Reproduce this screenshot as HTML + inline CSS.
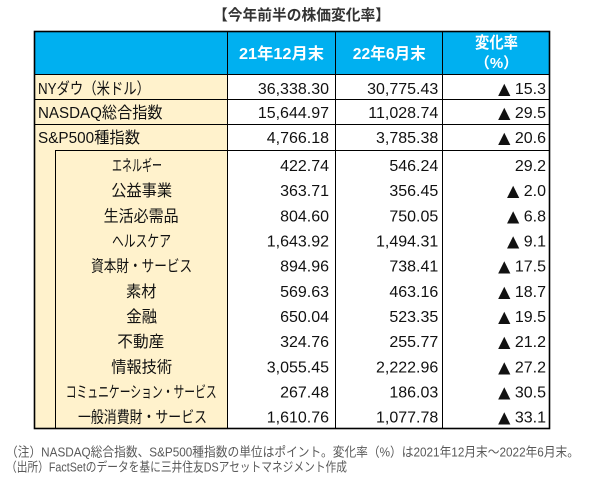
<!DOCTYPE html>
<html><head><meta charset="utf-8"><style>
html,body{margin:0;padding:0;background:#fff;}
svg{display:block;}
text{font-family:"Liberation Sans","Noto Sans CJK JP",sans-serif;}
.n{font-size:16px;fill:#111;text-anchor:end;}
.l{font-size:16px;fill:#111;}
.c{font-size:16px;fill:#111;text-anchor:middle;}
.h{font-size:16px;fill:#fff;font-weight:bold;text-anchor:middle;}
.t{font-family:"DejaVu Sans",sans-serif;font-size:16px;}
.f{font-size:13px;fill:#595959;}
</style></head><body>
<svg width="613" height="483" viewBox="0 0 613 483" xmlns="http://www.w3.org/2000/svg">
<rect x="0" y="0" width="613" height="483" fill="#fff"/>
<text x="213" y="20" font-size="15" font-weight="bold" fill="#333" textLength="177" lengthAdjust="spacingAndGlyphs">【今年前半の株価変化率】</text>
<rect x="34" y="31" width="516" height="43" fill="#00B0F0"/>
<rect x="34" y="74" width="193.5" height="355" fill="#FFF2CC"/>
<g stroke="#000" stroke-width="1" fill="none">
<line x1="34" y1="74.5" x2="550" y2="74.5"/>
<line x1="34" y1="99.5" x2="550" y2="99.5"/>
<line x1="34" y1="124.5" x2="550" y2="124.5"/>
<line x1="55" y1="150.5" x2="550" y2="150.5"/>
<line x1="55.5" y1="150" x2="55.5" y2="429"/>
<line x1="227.5" y1="31" x2="227.5" y2="429"/>
<line x1="335.5" y1="31" x2="335.5" y2="429"/>
<line x1="442.5" y1="31" x2="442.5" y2="429"/>
<rect x="34.5" y="31.5" width="515" height="397" stroke-width="1.6"/>
</g>
<text class="h" x="281.5" y="59" textLength="85" lengthAdjust="spacingAndGlyphs">21年12月末</text>
<text class="h" x="389.3" y="59" textLength="73" lengthAdjust="spacingAndGlyphs">22年6月末</text>
<text class="h" x="496.5" y="48" textLength="43" lengthAdjust="spacingAndGlyphs">変化率</text>
<text class="h" x="496.5" y="68" style="font-size:15px">（%）</text>

<text class="l" x="38" y="94" textLength="112" lengthAdjust="spacingAndGlyphs">NYダウ（米ドル）</text>
<text class="l" x="38" y="118" textLength="124.5" lengthAdjust="spacingAndGlyphs">NASDAQ総合指数</text>
<text class="l" x="38" y="143" textLength="102" lengthAdjust="spacingAndGlyphs">S&amp;P500種指数</text>

<text class="c" x="137" y="171" textLength="50" lengthAdjust="spacingAndGlyphs">エネルギー</text>
<text class="c" x="141.7" y="196" textLength="61" lengthAdjust="spacingAndGlyphs">公益事業</text>
<text class="c" x="141.1" y="221.3" textLength="75" lengthAdjust="spacingAndGlyphs">生活必需品</text>
<text class="c" x="141.5" y="246.5" textLength="59" lengthAdjust="spacingAndGlyphs">ヘルスケア</text>
<text class="c" x="141.6" y="271.7" textLength="101" lengthAdjust="spacingAndGlyphs">資本財・サービス</text>
<text class="c" x="141.3" y="296.8" textLength="30.5" lengthAdjust="spacingAndGlyphs">素材</text>
<text class="c" x="141.7" y="322" textLength="31" lengthAdjust="spacingAndGlyphs">金融</text>
<text class="c" x="140.8" y="347.2" textLength="47" lengthAdjust="spacingAndGlyphs">不動産</text>
<text class="c" x="141.7" y="372.4" textLength="61" lengthAdjust="spacingAndGlyphs">情報技術</text>
<text class="c" x="141.2" y="397.5" textLength="151" lengthAdjust="spacingAndGlyphs">コミュニケーション・サービス</text>
<text class="c" x="142.5" y="422.7" textLength="129" lengthAdjust="spacingAndGlyphs">一般消費財・サービス</text>

<g class="nums">
<text class="n" x="329" y="94">36,338.30</text><text class="n" x="438.3" y="94">30,775.43</text><text class="n" x="546" y="94"><tspan class="t">▲</tspan> 15.3</text>
<text class="n" x="329" y="118">15,644.97</text><text class="n" x="438.3" y="118">11,028.74</text><text class="n" x="546" y="118"><tspan class="t">▲</tspan> 29.5</text>
<text class="n" x="329" y="143">4,766.18</text><text class="n" x="438.3" y="143">3,785.38</text><text class="n" x="546" y="143"><tspan class="t">▲</tspan> 20.6</text>
<text class="n" x="329" y="171">422.74</text><text class="n" x="438.3" y="171">546.24</text><text class="n" x="546" y="171">29.2</text>
<text class="n" x="329" y="196">363.71</text><text class="n" x="438.3" y="196">356.45</text><text class="n" x="546" y="196"><tspan class="t">▲</tspan> 2.0</text>
<text class="n" x="329" y="221.3">804.60</text><text class="n" x="438.3" y="221.3">750.05</text><text class="n" x="546" y="221.3"><tspan class="t">▲</tspan> 6.8</text>
<text class="n" x="329" y="246.5">1,643.92</text><text class="n" x="438.3" y="246.5">1,494.31</text><text class="n" x="546" y="246.5"><tspan class="t">▲</tspan> 9.1</text>
<text class="n" x="329" y="271.7">894.96</text><text class="n" x="438.3" y="271.7">738.41</text><text class="n" x="546" y="271.7"><tspan class="t">▲</tspan> 17.5</text>
<text class="n" x="329" y="296.8">569.63</text><text class="n" x="438.3" y="296.8">463.16</text><text class="n" x="546" y="296.8"><tspan class="t">▲</tspan> 18.7</text>
<text class="n" x="329" y="322">650.04</text><text class="n" x="438.3" y="322">523.35</text><text class="n" x="546" y="322"><tspan class="t">▲</tspan> 19.5</text>
<text class="n" x="329" y="347.2">324.76</text><text class="n" x="438.3" y="347.2">255.77</text><text class="n" x="546" y="347.2"><tspan class="t">▲</tspan> 21.2</text>
<text class="n" x="329" y="372.4">3,055.45</text><text class="n" x="438.3" y="372.4">2,222.96</text><text class="n" x="546" y="372.4"><tspan class="t">▲</tspan> 27.2</text>
<text class="n" x="329" y="397.5">267.48</text><text class="n" x="438.3" y="397.5">186.03</text><text class="n" x="546" y="397.5"><tspan class="t">▲</tspan> 30.5</text>
<text class="n" x="329" y="422.7">1,610.76</text><text class="n" x="438.3" y="422.7">1,077.78</text><text class="n" x="546" y="422.7"><tspan class="t">▲</tspan> 33.1</text>
</g>

<text class="f" x="6" y="456.5" textLength="573" lengthAdjust="spacingAndGlyphs">（注）NASDAQ総合指数、S&amp;P500種指数の単位はポイント。変化率（%）は2021年12月末～2022年6月末。</text>
<text class="f" x="6" y="471.5" textLength="341" lengthAdjust="spacingAndGlyphs">（出所）FactSetのデータを基に三井住友DSアセットマネジメント作成</text>
</svg>
</body></html>
